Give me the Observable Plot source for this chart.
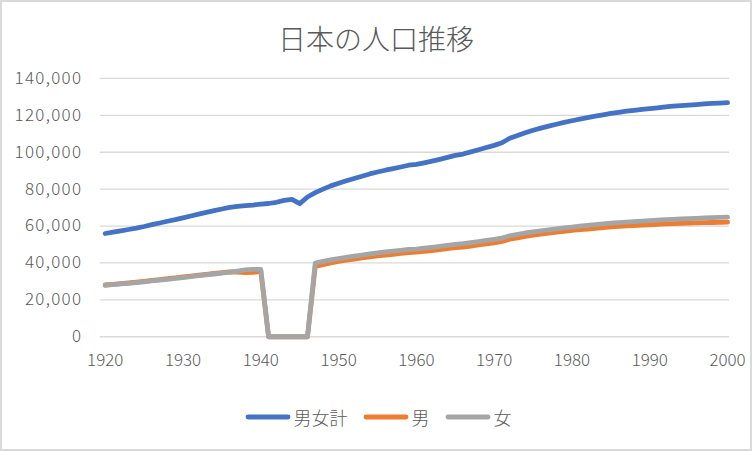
<!DOCTYPE html>
<html>
<head>
<meta charset="utf-8">
<script src="https://cdn.jsdelivr.net/npm/d3@7"></script>
<script src="https://cdn.jsdelivr.net/npm/@observablehq/plot@0.6"></script>
<style>
  html, body { margin: 0; padding: 0; background: #fff; }
  #chart { position: relative; width: 752px; height: 451px; box-sizing: border-box; border: 2px solid #d9d9d9; background: #fff; overflow: hidden; font-family: "Noto Sans CJK JP", "Noto Sans", sans-serif; font-weight: 300; }
  #title { position: absolute; left: -2px; top: 21px; width: 752px; text-align: center; font-size: 28px; line-height: 30px; color: #595959; font-weight: 300; }
  #plot { position: absolute; left: -2px; top: 54px; }
  #legend { position: absolute; left: 0px; top: 401px; width: 752px; display: flex; justify-content: center; align-items: center; gap: 15px; font-size: 18px; color: #595959; line-height: 28px; font-weight: 300; }
  .item { display: flex; align-items: center; gap: 3px; }
  #plot svg text { font-weight: 300; }
  #plot svg [aria-label="y-axis tick label"] text { letter-spacing: 1.3px; }
</style>
</head>
<body>
<div id="chart">
  <div id="title">日本の人口推移</div>
  <div id="plot"></div>
  <div id="legend"></div>
</div>
<script>
const years = d3.range(1920, 2001);
const total = [
  55963, 56666, 57390, 58119, 58876, 59737, 60741, 61659, 62595, 63461,
  64450, 65457, 66434, 67432, 68309, 69254, 70114, 70630, 71013, 71380,
  71933, 72218, 72880, 73903, 74433, 72147, 75750, 78101, 80002, 81773,
  83200, 84541, 85808, 86981, 88239, 89276, 90259, 91088, 92010, 92971,
  93419, 94287, 95181, 96156, 97182, 98275, 99036, 100196, 101331, 102536,
  103720, 105145, 107595, 109104, 110573, 111940, 113094, 114165, 115190, 116155,
  117060, 117902, 118728, 119536, 120305, 121049, 121660, 122239, 122745, 123205,
  123611, 124101, 124567, 124938, 125265, 125570, 125859, 126157, 126472, 126667,
  126926
];
const male = [
  28044, 28411, 28786, 29159, 29550, 30013, 30521, 30982, 31449, 31884,
  32390, 32888, 33370, 33865, 34301, 34734, 35103, 35000, 34800, 34900,
  35387, 0, 0, 0, 0, 0, 0, 38129, 39130, 40063,
  40812, 41489, 42115, 42705, 43321, 43861, 44301, 44707, 45160, 45602,
  45878, 46300, 46733, 47208, 47710, 48244, 48611, 49180, 49739, 50349,
  50918, 51658, 52857, 53617, 54337, 55091, 55658, 56191, 56689, 57174,
  57594, 58001, 58400, 58786, 59150, 59497, 59788, 60058, 60302, 60515,
  60697, 60905, 61124, 61307, 61448, 61574, 61698, 61805, 61919, 61972,
  62111
];
const female = [
  27919, 28255, 28604, 28960, 29326, 29724, 30220, 30677, 31146, 31577,
  32060, 32569, 33064, 33567, 34008, 34520, 35011, 35630, 36213, 36480,
  36546, 0, 0, 0, 0, 0, 0, 39972, 40872, 41710,
  42388, 43052, 43693, 44276, 44918, 45415, 45958, 46381, 46850, 47369,
  47541, 47987, 48448, 48948, 49472, 50031, 50425, 51016, 51592, 52187,
  52802, 53487, 54738, 55487, 56236, 56849, 57436, 57974, 58501, 58981,
  59467, 59901, 60328, 60750, 61155, 61552, 61872, 62181, 62443, 62690,
  62914, 63196, 63443, 63631, 63817, 63996, 64161, 64352, 64553, 64695,
  64815
];
const seriesNames = ["男女計", "男", "女"];
const seriesColors = ["#4472C4", "#ED7D31", "#A5A5A5"];
const yTicks = [0, 20000, 40000, 60000, 80000, 100000, 120000, 140000];
const xTicks = [1920, 1930, 1940, 1950, 1960, 1970, 1980, 1990, 2000];

const seriesValues = [total, male, female];
const rows = seriesValues.map((vals, i) => years.map((y, j) => ({year: y, value: vals[j], series: seriesNames[i]})));

const font = '"Noto Sans CJK JP", "Noto Sans", sans-serif';
const chart = Plot.plot({
  width: 752,
  height: 321,
  marginTop: 22,
  marginBottom: 40,
  marginLeft: 105,
  marginRight: 23,
  style: {fontFamily: font, fontSize: "17px", color: "#595959", background: "transparent", overflow: "visible"},
  x: {domain: [1920, 2000], ticks: xTicks, tickFormat: d => String(d), tickSize: 0, tickPadding: 17, label: null},
  y: {domain: [0, 140000], ticks: yTicks, tickFormat: d3.format(","), tickSize: 0, tickPadding: 23, label: null},
  marks: [
    Plot.ruleY(yTicks, {stroke: "#d9d9d9", strokeWidth: 1.3, strokeOpacity: 1, insetLeft: -5, insetRight: -2}),
    ...rows.map((r, i) => Plot.line(r, {x: "year", y: "value", stroke: seriesColors[i], strokeWidth: 4.8, strokeLinecap: "round", strokeLinejoin: "round"}))
  ]
});
chart.querySelectorAll('[aria-label="y-axis tick label"] text, [aria-label="x-axis tick label"] text').forEach(t => t.setAttribute("fill", "#595959"));
document.getElementById("plot").appendChild(chart);

const legend = document.getElementById("legend");
seriesNames.forEach((name, i) => {
  const item = document.createElement("div");
  item.className = "item";
  item.innerHTML = `<svg width="46" height="10"><line x1="3" y1="5" x2="43" y2="5" stroke="${seriesColors[i]}" stroke-width="4.8" stroke-linecap="round"/></svg><span>${name}</span>`;
  legend.appendChild(item);
});
</script>
</body>
</html>
